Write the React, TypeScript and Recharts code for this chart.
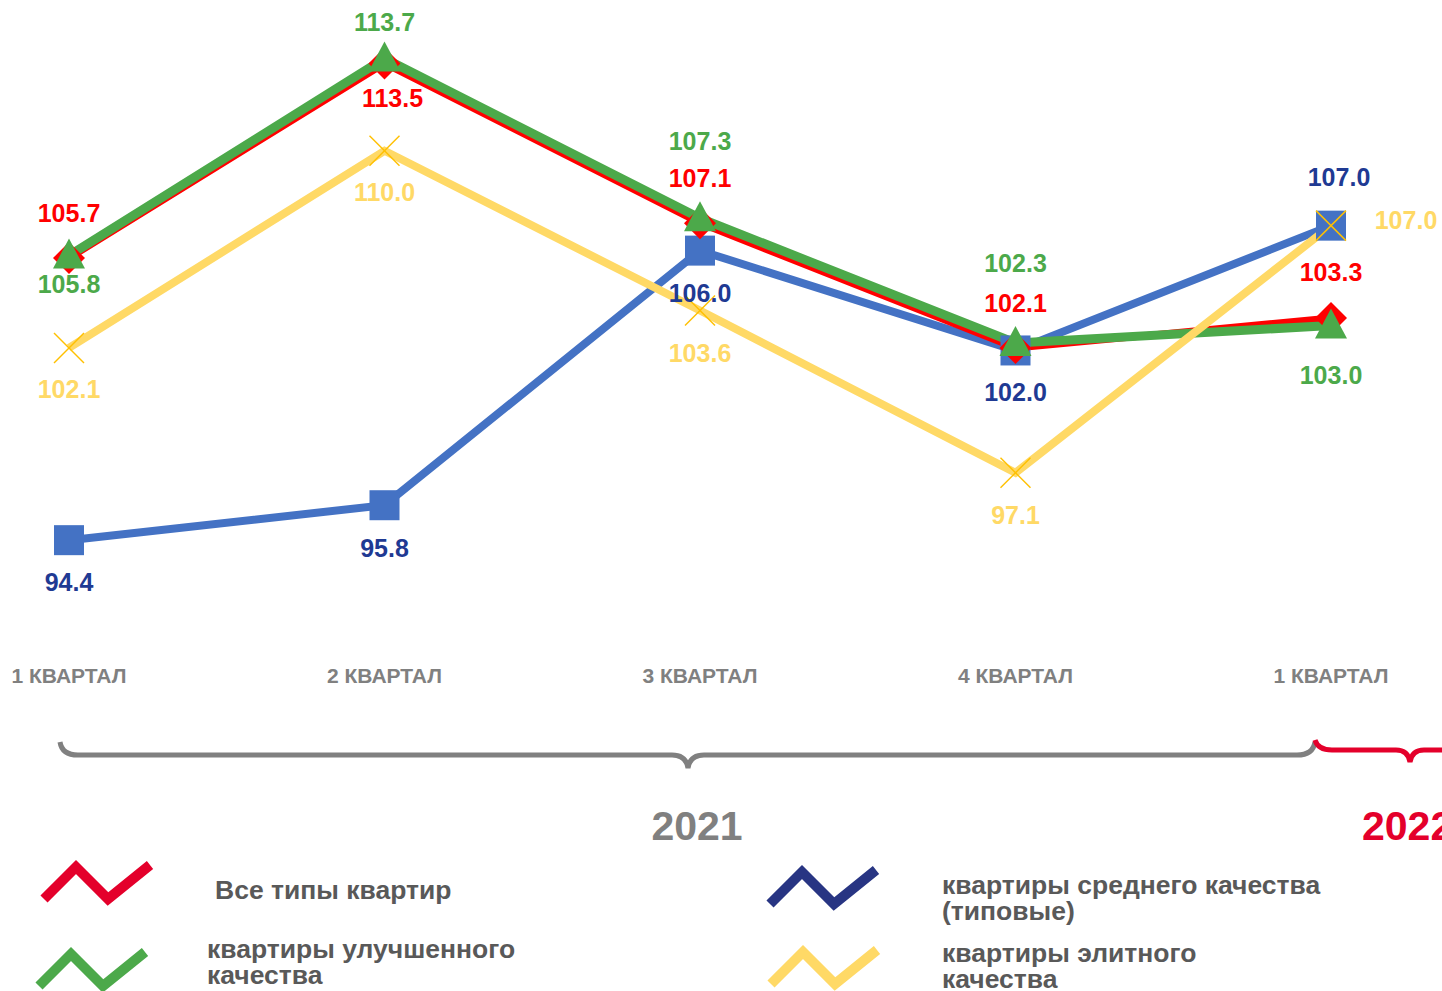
import React from "react";
import { LineChart, Line, XAxis, YAxis, LabelList } from "recharts";

const categories = ["1 КВАРТАЛ", "2 КВАРТАЛ", "3 КВАРТАЛ", "4 КВАРТАЛ", "1 КВАРТАЛ"];
const allTypes = [105.7, 113.5, 107.1, 102.1, 103.3];
const improved = [105.8, 113.7, 107.3, 102.3, 103.0];
const standard = [94.4, 95.8, 106.0, 102.0, 107.0];
const elite = [102.1, 110.0, 103.6, 97.1, 107.0];

const data = categories.map((name, i) => ({
  name,
  allTypes: allTypes[i],
  improved: improved[i],
  standard: standard[i],
  elite: elite[i],
}));

const FONT = "Arial, 'Liberation Sans', sans-serif";

// label offsets (dx, dy) from each point, per series
const labelOffsets: Record<string, [number, number][]> = {
  allTypes: [[0, -45], [8, 35], [0, -45], [0, -45], [0, -46]],
  improved: [[0, 28], [0, -36], [0, -77], [0, -80], [0, 49]],
  standard: [[0, 42], [0, 43], [0, 42], [0, 42], [8, -49]],
  elite: [[0, 41], [0, 41], [0, 42], [0, 42], [75, -6]],
};

const makeLabel = (key: string, color: string) => (props: any) => {
  const { x, y, value, index } = props;
  const [dx, dy] = labelOffsets[key][index];
  return (
    <text x={x + dx} y={y + dy} fill={color} fontSize={25} fontWeight="bold" fontFamily={FONT}
      textAnchor="middle" dominantBaseline="central">
      {Number(value).toFixed(1)}
    </text>
  );
};

const Diamond = (props: any) => {
  const { cx, cy } = props;
  return <polygon points={`${cx},${cy - 16} ${cx + 16},${cy} ${cx},${cy + 16} ${cx - 16},${cy}`} fill="#FF0000" />;
};
const Triangle = (props: any) => {
  const { cx, cy } = props;
  return <polygon points={`${cx},${cy - 17} ${cx + 16},${cy + 13} ${cx - 16},${cy + 13}`} fill="#4CA94A" />;
};
const Square = (props: any) => {
  const { cx, cy } = props;
  return <rect x={cx - 15} y={cy - 15} width={30} height={30} fill="#4472C4" />;
};
const Cross = (props: any) => {
  const { cx, cy } = props;
  return (
    <g stroke="#FFC000" strokeWidth={1.5}>
      <line x1={cx - 15} y1={cy - 15} x2={cx + 15} y2={cy + 15} />
      <line x1={cx - 15} y1={cy + 15} x2={cx + 15} y2={cy - 15} />
    </g>
  );
};

const Tick = (props: any) => {
  const { x, y, payload } = props;
  return (
    <text x={x} y={y + 17} fill="#808080" fontSize={21} fontWeight="bold" fontFamily={FONT}
      textAnchor="middle" dominantBaseline="central">
      {payload.value}
    </text>
  );
};

const Zigzag = ({ color }: { color: string }) => (
  <svg width={120} height={50} style={{ display: "block" }}>
    <polyline points="6,42 38,10 70,42 112,8" fill="none" stroke={color} strokeWidth={10} />
  </svg>
);

const legendItems = [
  { color: "#E4002B", lines: ["Все типы квартир"], icon: [38, 857], text: [215, 877] },
  { color: "#4CA94A", lines: ["квартиры улучшенного", "качества"], icon: [33, 944], text: [207, 936] },
  { color: "#283583", lines: ["квартиры среднего качества", "(типовые)"], icon: [764, 862], text: [942, 872] },
  { color: "#FFD966", lines: ["квартиры элитного", "качества"], icon: [765, 942], text: [942, 940] },
];

export default function App() {
  return (
    <div style={{ position: "absolute", left: 0, top: 0, width: 1442, height: 991, background: "#fff", overflow: "hidden" }}>
      <LineChart width={1442} height={700} data={data} margin={{ top: 1, right: 111, left: 69, bottom: 20 }}>
        <XAxis dataKey="name" axisLine={false} tickLine={false} interval={0} tick={<Tick />} padding={{ left: 0, right: 0 }} />
        <YAxis hide domain={[90, 116]} />
        <Line dataKey="standard" stroke="#4472C4" strokeWidth={8} dot={<Square />} isAnimationActive={false}>
          <LabelList dataKey="standard" content={makeLabel("standard", "#1F3A93")} />
        </Line>
        <Line dataKey="allTypes" stroke="#FF0000" strokeWidth={7} dot={<Diamond />} isAnimationActive={false}>
          <LabelList dataKey="allTypes" content={makeLabel("allTypes", "#FF0000")} />
        </Line>
        <Line dataKey="improved" stroke="#4CA94A" strokeWidth={9} dot={<Triangle />} isAnimationActive={false}>
          <LabelList dataKey="improved" content={makeLabel("improved", "#4CA94A")} />
        </Line>
        <Line dataKey="elite" stroke="#FFD966" strokeWidth={8} dot={<Cross />} isAnimationActive={false}>
          <LabelList dataKey="elite" content={makeLabel("elite", "#FFD966")} />
        </Line>
      </LineChart>

      <svg width={1442} height={991} style={{ position: "absolute", left: 0, top: 0, pointerEvents: "none" }}>
        <path d="M60,742 Q62,755 78,755 L672,755 Q686,755 688,768 Q690,755 704,755 L1297,755 Q1313,755 1315,742"
          fill="none" stroke="#808080" strokeWidth={5} />
        <path d="M1315,740 Q1318,750 1332,750 L1396,750 Q1408,750 1410,762 Q1412,750 1424,750 L1442,750"
          fill="none" stroke="#E4002B" strokeWidth={5} />
        <text x={697} y={826} fill="#808080" fontSize={41} fontWeight="bold" fontFamily={FONT}
          textAnchor="middle" dominantBaseline="central">2021</text>
        <text x={1362} y={826} fill="#E4002B" fontSize={41} fontWeight="bold" fontFamily={FONT}
          dominantBaseline="central">2022</text>
      </svg>

      {legendItems.map((it, i) => (
        <React.Fragment key={i}>
          <div style={{ position: "absolute", left: it.icon[0], top: it.icon[1] }}>
            <Zigzag color={it.color} />
          </div>
          <div style={{ position: "absolute", left: it.text[0], top: it.text[1], fontFamily: FONT, fontWeight: "bold",
            fontSize: 26.5, lineHeight: "26px", color: "#595959", whiteSpace: "nowrap" }}>
            {it.lines.map((l, j) => <div key={j}>{l}</div>)}
          </div>
        </React.Fragment>
      ))}
    </div>
  );
}
